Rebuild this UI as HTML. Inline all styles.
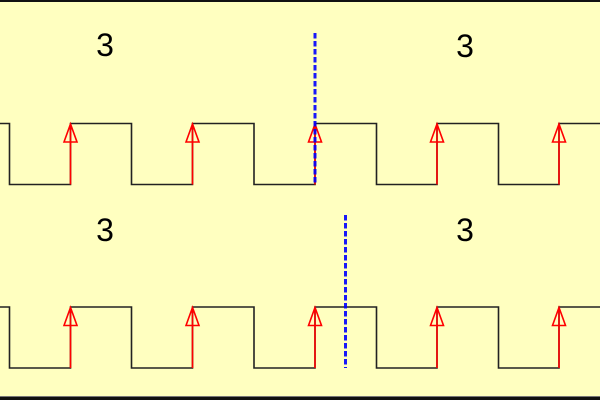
<!DOCTYPE html>
<html><head><meta charset="utf-8"><style>
html,body{margin:0;padding:0;background:#ffffc0;}
svg{display:block;}
</style></head><body>
<svg width="600" height="400" viewBox="0 0 600 400" xmlns="http://www.w3.org/2000/svg">
<rect x="0" y="0" width="600" height="400" fill="#ffffc0"/>
<rect x="0" y="0" width="600" height="2" fill="#111"/>
<rect x="0" y="397" width="600" height="3" fill="#111"/>
<rect x="0" y="396" width="600" height="1" fill="#777"/>
<g font-family="Liberation Sans, sans-serif" font-size="32" fill="#000" text-anchor="middle">
<text x="105" y="56">3</text>
<text x="465" y="57">3</text>
<text x="105" y="241">3</text>
<text x="465" y="241">3</text>
</g>
<g fill="none" stroke="#222" stroke-width="1.6">
<path d="M0,123.5 H9.5 V184.5 H70.5 V123.5 H131.5 V184.5 H192.5 V123.5 H254 V184.5 H315 V123.5 H376.5 V184.5 H437 V123.5 H498.5 V184.5 H559 V123.5 H600"/>
<path d="M0,307 H9.5 V368 H70.5 V307 H131.5 V368 H192.5 V307 H254 V368 H315 V307 H376.5 V368 H437 V307 H498.5 V368 H559 V307 H600"/>
</g>
<g fill="none" stroke="#ff0000" stroke-width="1.6">
<path d="M70.5,184.5 V124 M64,142 L70.5,124 L77,142 Z"/>
<path d="M192.5,184.5 V124 M186,142 L192.5,124 L199,142 Z"/>
<path d="M315,184.5 V124 M308.5,142 L315,124 L321.5,142 Z"/>
<path d="M437,184.5 V124 M430.5,142 L437,124 L443.5,142 Z"/>
<path d="M559,184.5 V124 M552.5,142 L559,124 L565.5,142 Z"/>
<path d="M70.5,368 V307.5 M64,325.5 L70.5,307.5 L77,325.5 Z"/>
<path d="M192.5,368 V307.5 M186,325.5 L192.5,307.5 L199,325.5 Z"/>
<path d="M315,368 V307.5 M308.5,325.5 L315,307.5 L321.5,325.5 Z"/>
<path d="M437,368 V307.5 M430.5,325.5 L437,307.5 L443.5,325.5 Z"/>
<path d="M559,368 V307.5 M552.5,325.5 L559,307.5 L565.5,325.5 Z"/>
</g>
<g stroke="#0000ff" stroke-width="3" stroke-dasharray="5.5,2.5" opacity="0.9">
<line x1="315" y1="33" x2="315" y2="185"/>
<line x1="345.5" y1="215" x2="345.5" y2="368"/>
</g>
</svg>
</body></html>
